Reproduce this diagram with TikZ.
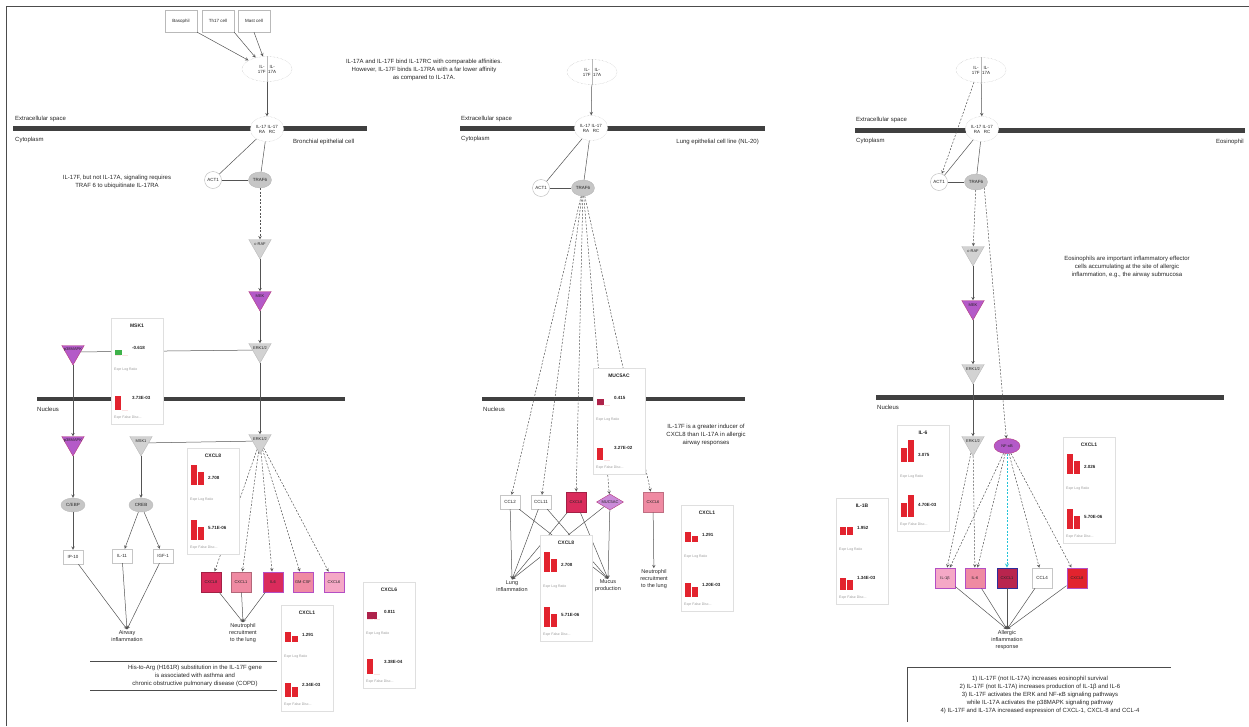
\documentclass[tikz,border=0pt]{standalone}
\usepackage{fontspec}
\setmainfont{Liberation Sans}
\usetikzlibrary{arrows,shapes.geometric,positioning}

\definecolor{crim}{HTML}{DA2B5C}
\definecolor{rosy}{HTML}{EF8AA2}
\definecolor{blush}{HTML}{F5A8C6}
\definecolor{plum}{HTML}{B34FC4}
\definecolor{pkfill}{HTML}{B45AC8}
\definecolor{barred}{HTML}{E2232E}
\definecolor{navyb}{HTML}{2E2E9C}
\definecolor{tealc}{HTML}{22C4D8}
\definecolor{barneg}{HTML}{3FB24A}

\tikzset{
  every node/.style={font=\fontsize{6}{8}\selectfont, inner sep=1pt, text=black!85},
  link/.style={draw=gray!65!black, line width=0.5pt},
  act/.style={link, ->, >=stealth},
  dact/.style={act, dash pattern=on 2pt off 1.5pt},
  membrane/.style={fill=gray!50!black},
  cellbox/.style={draw=gray!55, fill=white, minimum width=32, minimum height=22, font=\fontsize{4.5}{5}\selectfont},
  cplx/.style={ellipse, draw=gray!55, densely dotted, fill=white, minimum width=50, minimum height=25, align=center, font=\fontsize{4.5}{5}\selectfont},
  rcpt/.style={cplx, minimum width=32, minimum height=25},
  adaptor/.style={circle, draw=gray!55, fill=white, minimum size=17, font=\fontsize{4.5}{5}\selectfont},
  traf/.style={ellipse, draw=gray!55, fill=gray!45, minimum width=22, minimum height=16, font=\fontsize{4.5}{5}\selectfont},
  kinase/.style={regular polygon, regular polygon sides=3, shape border rotate=180, draw=gray!55, fill=gray!35, minimum size=26, inner sep=0pt},
  pkinase/.style={kinase, draw=magenta!70!black, fill=pkfill},
  klabel/.style={font=\fontsize{4}{4.5}\selectfont, yshift=2pt},
  tfac/.style={ellipse, draw=gray!55, fill=gray!45, minimum width=24, minimum height=14, font=\fontsize{4.5}{5}\selectfont},
  gene/.style={draw=gray!45, fill=white, minimum width=20, minimum height=14, font=\fontsize{4.5}{5}\selectfont},
  tgt/.style 2 args={draw=#2, fill=#1, line width=0.9pt, minimum size=20, inner sep=0pt, font=\fontsize{4}{5}\selectfont},
  pgene/.style={diamond, aspect=1.7, draw=magenta!70!black, fill=pkfill!70, minimum width=27, minimum height=16, inner sep=0pt, font=\fontsize{4}{5}\selectfont},
  fnode/.style={align=center, font=\fontsize{5.5}{7}\selectfont},
  note/.style={align=center},
  databox/.style={draw=gray!25, fill=white},
  boxtitle/.style={font=\fontsize{5}{6}\bfseries},
  boxval/.style={font=\fontsize{4.5}{5}\bfseries},
  boxtiny/.style={font=\fontsize{3.5}{4}\selectfont, text=gray!80},
  barfill/.style={fill=barred},
}

% expression box: x, y (top left), title, value 1, value 2, bar heights
\newcommand{\exprbox}[9]{%
  \begin{scope}[shift={(#1,#2)}]
    \draw[databox] (0,0) rectangle (52,106);
    \node[boxtitle] (db#1-t) at (26,8) {#3};
    \fill[barfill] (4,37) rectangle (10,{37-#6});
    \fill[barfill] (11,37) rectangle (17,{37-#7});
    \node[boxval, anchor=west] (db#1-a) at (20,30) {#4};
    \node[boxtiny, anchor=west] (db#1-b) at (2,52) {Expr Log Ratio};
    \fill[barfill] (4,92) rectangle (10,{92-#8});
    \fill[barfill] (11,92) rectangle (17,{92-#9});
    \node[boxval, anchor=west] (db#1-c) at (20,80) {#5};
    \node[boxtiny, anchor=west] (db#1-d) at (2,100) {Expr False Disc...};
  \end{scope}}

\begin{document}
\begin{tikzpicture}[x=1pt,y=-1pt]
\useasboundingbox (0,0) rectangle (1249,726);
\draw[gray!60!black, line width=0.8pt] (6,726) -- (6,6) -- (1249,6);

% membranes
\fill[membrane] (13,126) rectangle (367,131);
\fill[membrane] (37,397) rectangle (345,401);
\fill[membrane] (460,126) rectangle (765,131);
\fill[membrane] (482,397) rectangle (745,401);
\fill[membrane] (855,128) rectangle (1245,133);
\fill[membrane] (876,395) rectangle (1224,400);

% ---- left panel: bronchial epithelial cell
\node[anchor=west] (lext) at (14,119) {Extracellular space};
\node[anchor=west] (lcyt) at (14,140) {Cytoplasm};
\node[anchor=west] (lcell) at (292,142) {Bronchial epithelial cell};
\node[anchor=west] (lnuc) at (36,409) {Nucleus};

\node[cellbox] (baso) at (181,21) {Basophil};
\node[cellbox] (th17) at (218,21) {Th17 cell};
\node[cellbox] (mast) at (254,21) {Mast cell};
\node[cplx] (lcx) at (267,69) {IL-\ \ \ \ IL-\\17F\ \ 17A};
\draw[gray!55] (lcx.north) -- (lcx.south);
\node[rcpt] (lrc) at (267,129) {IL-17 IL-17\\RA\ \ \ RC};
\node[adaptor] (lact) at (213,180) {ACT1};
\node[traf] (ltraf) at (260,180) {TRAF6};
\node[kinase] (lraf) at (260,246) {};
\node[klabel] (lraf-t) at (lraf) {c-RAF};
\node[pkinase] (lmek) at (260,298) {};
\node[klabel] (lmek-t) at (lmek) {MEK};
\node[kinase] (lerk) at (260,350) {};
\node[klabel] (lerk-t) at (lerk) {ERK1/2};
\node[pkinase] (lp38) at (73,352) {};
\node[klabel] (lp38-t) at (lp38) {p38MAPK};
\node[pkinase] (lp38n) at (73,443) {};
\node[klabel] (lp38n-t) at (lp38n) {p38MAPK};
\node[kinase] (lmsk) at (141,443) {};
\node[klabel] (lmsk-t) at (lmsk) {MSK1};
\node[kinase] (lerkn) at (260,441) {};
\node[klabel] (lerkn-t) at (lerkn) {ERK1/2};
\node[tfac] (lcebp) at (73,505) {C/EBP};
\node[tfac] (lcreb) at (141,505) {CREB};
\node[gene] (lip10) at (73,557) {IP-10};
\node[gene] (lil11) at (122,556) {IL-11};
\node[gene] (ligf1) at (163,556) {IGF-1};
\node[fnode] (lairway) at (127,636) {Airway\\inflammation};
\node[tgt={crim}{crim!75!black}] (lt1) at (211,582) {CXCL8};
\node[tgt={rosy}{rosy!75!black}] (lt2) at (241,582) {CXCL1};
\node[tgt={crim}{plum}] (lt3) at (273,582) {IL6};
\node[tgt={rosy}{plum}] (lt4) at (303,582) {GM-CSF};
\node[tgt={blush}{plum}] (lt5) at (334,582) {CXCL6};
\node[fnode] (lneut) at (243,633) {Neutrophil\\recruitment\\to the lung};

\node[note] (lnote1) at (424,70) {IL-17A and IL-17F bind IL-17RC with comparable affinities.\\However, IL-17F binds IL-17RA with a far lower affinity\\as compared to IL-17A.};
\node[note] (lnote2) at (117,182) {IL-17F, but not IL-17A, signaling requires\\TRAF 6 to ubiquitinate IL-17RA};
\node[note] (lnote3) at (195,676) {His-to-Arg (H161R) substitution in the IL-17F gene\\is associated with asthma and\\chronic obstructive pulmonary disease (COPD)};
\draw[gray!60!black, line width=0.8pt] (90,661) -- (277,661);
\draw[gray!60!black, line width=0.8pt] (90,690) -- (277,690);

\draw[act] (baso.south east) -- (lcx.155);
\draw[act] (th17.south east) -- (lcx.135);
\draw[act] (mast.south) -- (lcx.108);
\draw[act] (lcx) -- (lrc);
\draw[link] (lrc) -- (lact);
\draw[link] (lrc) -- (ltraf);
\draw[link] (lact) -- (ltraf);
\draw[dact] (ltraf) -- (lraf);
\draw[act] (lraf) -- (lmek);
\draw[act] (lmek) -- (lerk);
\draw[act] (lerk) -- (lerkn);
\draw[link] (lp38) -- (lerk);
\draw[act] (lp38) -- (lp38n);
\draw[link] (lmsk) -- (lerkn);
\draw[act] (lp38n) -- (lcebp);
\draw[act] (lmsk) -- (lcreb);
\draw[act] (lcebp) -- (lip10);
\draw[act] (lcreb) -- (lil11);
\draw[act] (lcreb) -- (ligf1);
\foreach \g in {lip10,lil11,ligf1}
  \draw[act] (\g) -- (lairway.north);
\foreach \t in {lt1,lt2,lt3,lt4,lt5}
  \draw[dact] (lerkn) -- (\t);
\foreach \t in {lt1,lt2,lt3}
  \draw[act] (\t) -- (lneut.north);

% ---- middle panel: lung epithelial cell line
\node[anchor=west] (mext) at (460,119) {Extracellular space};
\node[anchor=west] (mcyt) at (460,139) {Cytoplasm};
\node[anchor=east] (mcell) at (760,142) {Lung epithelial cell line (NL-20)};
\node[anchor=west] (mnuc) at (482,409) {Nucleus};

\node[cplx] (mcx) at (592,72) {IL-\ \ \ \ IL-\\17F\ \ 17A};
\draw[gray!55] (mcx.north) -- (mcx.south);
\node[rcpt] (mrc) at (591,128) {IL-17 IL-17\\RA\ \ \ RC};
\node[adaptor] (mact) at (541,188) {ACT1};
\node[traf] (mtraf) at (583,188) {TRAF6};
\node[gene] (mccl2) at (510,502) {CCL2};
\node[gene] (mccl11) at (541,502) {CCL11};
\node[tgt={crim}{crim!75!black}] (mcxcl8) at (576,502) {CXCL8};
\node[pgene] (mmuc) at (610,502) {MUC5AC};
\node[tgt={rosy}{rosy!80!black}] (mcxcl6) at (653,502) {CXCL6};
\node[fnode] (mlung) at (512,586) {Lung\\inflammation};
\node[fnode] (mmucus) at (608,586) {Mucus\\production};
\node[fnode] (mneut) at (654,579) {Neutrophil\\recruitment\\to the lung};
\node[note] (mnote) at (706,435) {IL-17F is a greater inducer of\\CXCL8 than IL-17A in allergic\\airway responses};

\draw[act] (mcx) -- (mrc);
\draw[link] (mrc) -- (mact);
\draw[link] (mrc) -- (mtraf);
\draw[link] (mact) -- (mtraf);
\foreach \t in {mccl2,mccl11,mcxcl8,mmuc,mcxcl6}
  \draw[dact] (mtraf) -- (\t);
\foreach \t in {mccl2,mccl11,mcxcl8,mmuc}
  \draw[act] (\t) -- (mlung.north);
\foreach \t in {mccl2,mccl11,mcxcl8,mmuc}
  \draw[act] (\t) -- (mmucus.north);
\draw[act] (mcxcl6) -- (mneut);

% ---- right panel: eosinophil
\node[anchor=west] (rext) at (855,120) {Extracellular space};
\node[anchor=west] (rcyt) at (855,141) {Cytoplasm};
\node[anchor=east] (rcell) at (1245,142) {Eosinophil};
\node[anchor=west] (rnuc) at (876,407) {Nucleus};

\node[cplx] (rcx) at (981,70) {IL-\ \ \ \ IL-\\17F\ \ 17A};
\draw[gray!55] (rcx.north) -- (rcx.south);
\node[rcpt] (rrc) at (982,129) {IL-17 IL-17\\RA\ \ \ RC};
\node[adaptor] (ract) at (939,182) {ACT1};
\node[traf] (rtraf) at (976,182) {TRAF6};
\node[kinase] (rraf) at (973,253) {};
\node[klabel] (rraf-t) at (rraf) {c-RAF};
\node[pkinase] (rmek) at (973,307) {};
\node[klabel] (rmek-t) at (rmek) {MEK};
\node[kinase] (rerk) at (973,371) {};
\node[klabel] (rerk-t) at (rerk) {ERK1/2};
\node[kinase] (rerkn) at (973,443) {};
\node[klabel] (rerkn-t) at (rerkn) {ERK1/2};
\node[ellipse, draw=magenta!70!black, fill=pkfill, minimum width=26, minimum height=15, inner sep=0pt, font=\fontsize{4}{5}\selectfont] (rnfkb) at (1007,446) {NF-κB};
\node[tgt={blush}{plum}] (ril1b) at (945,578) {IL-1β};
\node[tgt={rosy}{plum}] (ril6) at (975,578) {IL-6};
\node[tgt={crim!85!black}{navyb}] (rcxcl1) at (1007,578) {CXCL1};
\node[gene, minimum height=20] (rccl4) at (1042,578) {CCL4};
\node[tgt={barred}{plum}] (rcxcl8) at (1077,578) {CXCL8};
\node[fnode] (rallergic) at (1007,640) {Allergic\\inflammation\\response};
\node[note] (rnote) at (1127,267) {Eosinophils are important inflammatory effector\\cells accumulating at the site of allergic\\inflammation, e.g., the airway submucosa};
\node[note] (rnote2) at (1040,695) {1) IL-17F (not IL-17A) increases eosinophil survival\\2) IL-17F (not IL-17A) increases production of IL-1β and IL-6\\3) IL-17F activates the ERK and NF-κB signaling pathways\\while IL-17A activates the p38MAPK signaling pathway\\4) IL-17F and IL-17A increased expression of CXCL-1, CXCL-8 and CCL-4};
\draw[gray!60!black, line width=0.8pt] (907,722) -- (907,667) -- (1171,667);

\draw[act] (rcx) -- (rrc);
\draw[dact] (rcx.240) -- (ract);
\draw[link] (rrc) -- (ract);
\draw[link] (rrc) -- (rtraf);
\draw[link] (ract) -- (rtraf);
\draw[dact] (rtraf) -- (rraf);
\draw[dact] (rtraf.south east) -- (rnfkb);
\draw[act] (rraf) -- (rmek);
\draw[act] (rmek) -- (rerk);
\draw[act] (rerk) -- (rerkn);
\foreach \t in {ril1b,ril6}
  \draw[dact] (rerkn) -- (\t);
\foreach \t in {ril1b,ril6,rccl4,rcxcl8}
  \draw[dact] (rnfkb) -- (\t);
\draw[dact, draw=tealc, line width=0.8pt] (rnfkb) -- (rcxcl1);
\foreach \t in {ril1b,ril6,rcxcl1,rccl4,rcxcl8}
  \draw[act] (\t) -- (rallergic.north);

% expression boxes
\exprbox{111}{318}{MSK1}{-0.618}{3.73E-03}{0}{0}{14}{0}
\fill[barneg] (115,350) rectangle (122,355);
\exprbox{187}{448}{CXCL8}{2.708}{5.71E-06}{20}{13}{20}{13}
\exprbox{281}{605}{CXCL1}{1.291}{2.34E-03}{10}{6}{14}{10}
\exprbox{363}{582}{CXCL6}{0.811}{3.38E-04}{0}{0}{15}{0}
\fill[crim!80!black] (367,612) rectangle (377,619);
\exprbox{593}{368}{MUC5AC}{0.415}{3.27E-02}{0}{0}{12}{0}
\fill[crim!80!black] (597,399) rectangle (604,405);
\exprbox{540}{535}{CXCL8}{2.708}{5.71E-06}{20}{13}{20}{13}
\exprbox{681}{505}{CXCL1}{1.291}{1.20E-03}{10}{6}{14}{10}
\exprbox{897}{425}{IL-6}{3.075}{4.70E-03}{14}{22}{14}{22}
\exprbox{1063}{437}{CXCL1}{2.026}{5.70E-06}{20}{13}{20}{13}
\exprbox{836}{498}{IL-1B}{1.952}{1.34E-03}{8}{8}{12}{10}
\end{tikzpicture}
\end{document}
